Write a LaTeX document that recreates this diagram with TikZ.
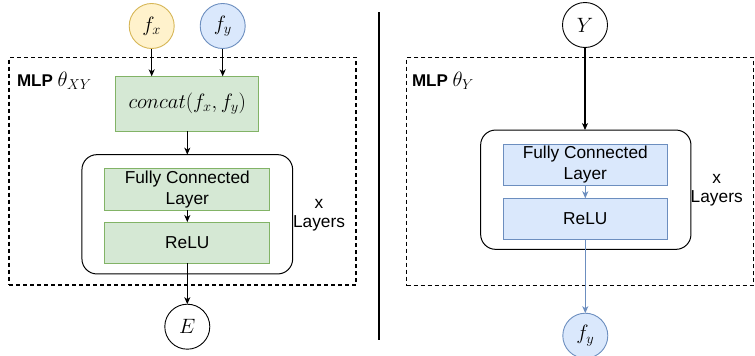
\documentclass[tikz,border=0pt]{standalone}
\usepackage{fontspec}
\setmainfont{Liberation Sans}
\usetikzlibrary{arrows.meta}
\definecolor{ylwfill}{HTML}{FFF2CC}
\definecolor{ylwline}{HTML}{D6B656}
\definecolor{bluefill}{HTML}{DAE8FC}
\definecolor{blueline}{HTML}{6C8EBF}
\definecolor{grnfill}{HTML}{D5E8D4}
\definecolor{grnline}{HTML}{82B366}
\tikzset{
  every node/.style={inner sep=0pt, outer sep=0pt},
  mathcirc/.style={circle, draw=black, line width=0.9pt, minimum size=45pt, font=\fontsize{20}{24}\selectfont},
  greenbox/.style={draw=grnline, fill=grnfill, line width=1pt, align=center, font=\fontsize{17.3}{21}\selectfont},
  bluebox/.style={draw=blueline, fill=bluefill, line width=1pt, align=center, font=\fontsize{17.3}{21}\selectfont},
  groupbox/.style={draw=black, line width=1pt, rounded corners=15pt},
  mlpbox/.style={draw=black, line width=1.5pt, dash pattern=on 4pt off 3pt},
  conn/.style={draw=black, line width=1.1pt, -{Stealth[length=7pt,width=6pt,inset=2pt]}},
  bconn/.style={draw=blueline, line width=1.1pt, -{Stealth[length=7pt,width=6pt,inset=2pt]}},
  plain/.style={font=\fontsize{17.3}{19.5}\selectfont, align=center},
  mlplabel/.style={anchor=west, font=\fontsize{17}{20}\selectfont}
}
\begin{document}
\begin{tikzpicture}[x=1pt, y=-1pt]
\useasboundingbox (0,0) rectangle (755,356);
% ---------- left panel ----------
\node[mlpbox, minimum width=347pt, minimum height=227.7pt] (mlpL) at (182.5,171.2) {};
\node[mlplabel] (labL) at (17,81) {\textbf{MLP} {\fontsize{19.5}{22}\selectfont$\theta_{XY}$}};
\node[mathcirc, draw=ylwline, fill=ylwfill] (fx) at (151.7,26) {$f_x$};
\node[mathcirc, draw=blueline, fill=bluefill] (fy) at (222.7,26) {$f_y$};
\node[greenbox, minimum width=142.7pt, minimum height=54.7pt, font=\fontsize{20.5}{24}\selectfont] (cat) at (187.3,103.7) {$concat(f_x,f_y)$};
\node[groupbox, minimum width=210.7pt, minimum height=119.3pt] (grpL) at (187.3,214.3) {};
\node[greenbox, minimum width=165pt, minimum height=41.7pt] (fcL) at (187.3,189.2) {Fully Connected\\Layer};
\node[greenbox, minimum width=165pt, minimum height=41.3pt] (reL) at (187.3,242.7) {ReLU};
\node[plain] (layL) at (319,215) {x\\Layers};
\node[mathcirc] (E) at (187.3,326.7) {$E$};
\draw[conn] (fx.south) -- (fx.south |- cat.north);
\draw[conn] (fy.south) -- (fy.south |- cat.north);
\draw[conn] (cat.south) -- (grpL.north);
\draw[conn] (fcL.south) -- (reL.north);
\draw[conn] (reL.south) -- (E.north);
% ---------- separator ----------
\coordinate (sepT) at (379,12);
\coordinate (sepB) at (379,340);
\draw[line width=1.5pt] (sepT) -- (sepB);
% ---------- right panel ----------
\node[mlpbox, minimum width=346.6pt, minimum height=228.4pt] (mlpR) at (580,171.5) {};
\node[mlplabel] (labR) at (412,81) {\textbf{MLP} {\fontsize{19.5}{22}\selectfont$\theta_{Y}$}};
\node[mathcirc] (Y) at (585,25) {$Y$};
\node[groupbox, minimum width=210.3pt, minimum height=119.3pt] (grpR) at (585.8,189.7) {};
\node[bluebox, minimum width=164pt, minimum height=41.4pt] (fcR) at (585.3,165) {Fully Connected\\Layer};
\node[bluebox, minimum width=164pt, minimum height=41pt] (reR) at (585.3,218.8) {ReLU};
\node[plain] (layR) at (716.7,190) {x\\Layers};
\node[mathcirc, draw=blueline, fill=bluefill] (fy2) at (585.3,335.7) {$f_y$};
\draw[conn] (Y.south) -- (Y.south |- grpR.north);
\draw[bconn] (fcR.south) -- (reR.north);
\draw[bconn] (reR.south) -- (fy2.north);
\end{tikzpicture}
\end{document}
